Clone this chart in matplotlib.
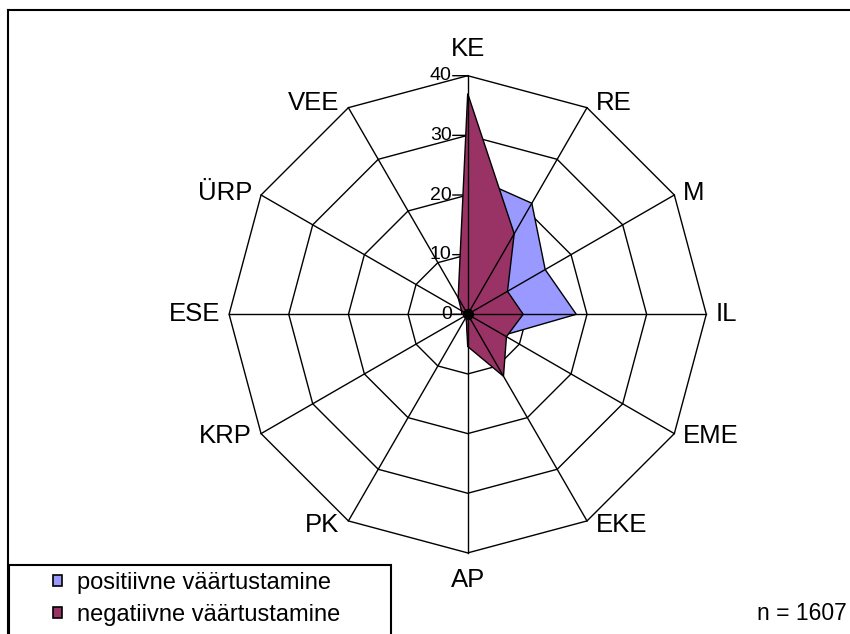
import numpy as np
import matplotlib
matplotlib.use('Agg')
import matplotlib.pyplot as plt
from matplotlib.patches import Patch, Rectangle
from matplotlib.lines import Line2D

# ---------------- data ----------------
categories = ['KE', 'RE', 'M', 'IL', 'EME', 'EKE', 'AP', 'PK', 'KRP', 'ESE', 'ÜRP', 'VEE']
positive = [23.4, 21.5, 15.0, 18.2, 7.0, 6.0, 3.5, 0.5, 0.5, 0.8, 1.0, 2.5]
negative = [37.0, 15.6, 7.7, 9.3, 7.5, 12.0, 5.4, 0.5, 0.3, 1.0, 1.2, 3.2]
series_names = ['positiivne väärtustamine', 'negatiivne väärtustamine']
r_ticks = [0, 10, 20, 30, 40]
n_label = 'n = 1607'

# ---------------- style ----------------
W, H, DPI = 850, 634, 100
plt.rcParams['font.family'] = ['Liberation Sans', 'DejaVu Sans']
colors = ['#9999FF', '#993366']
LW = 1.0

fig = plt.figure(figsize=(W / DPI, H / DPI), dpi=DPI)
fig.patch.set_facecolor('white')

cx, cy, R = 467.7, 314.3, 238.6
ax = fig.add_axes([(cx - R) / W, (H - cy - R) / H, 2 * R / W, 2 * R / H],
                  projection='polar')
ax.set_theta_offset(np.pi / 2)
ax.set_theta_direction(-1)
ax.set_ylim(0, r_ticks[-1])
ax.grid(False)
ax.set_xticks([])
ax.set_yticks([])
ax.spines['polar'].set_visible(False)
ax.patch.set_alpha(0)

N = len(categories)
theta = np.arange(N) * 2 * np.pi / N
closed = np.append(theta, theta[0])

# polygon rings (under the fills)
for v in r_ticks[1:]:
    ax.plot(closed, [v] * (N + 1), color='black', lw=LW, zorder=1, clip_on=False)

# value-axis tick marks and labels
for v in r_ticks:
    ax.annotate('', xy=(0, v), xytext=(-15, 0), textcoords='offset pixels',
                arrowprops=dict(arrowstyle='-', color='black', lw=LW,
                                shrinkA=0, shrinkB=0),
                zorder=1, annotation_clip=False)
    ax.annotate(str(v), xy=(0, v), xytext=(-16, 0), textcoords='offset pixels',
                ha='right', va='center', fontsize=14, zorder=1,
                annotation_clip=False)

# filled series
for vals, fc in zip([positive, negative], colors):
    ax.fill(closed, np.append(vals, vals[0]), facecolor=fc, edgecolor='black',
            lw=LW, zorder=2)

# spokes (over the fills)
for t in theta:
    ax.plot([t, t], [0, r_ticks[-1]], color='black', lw=LW, zorder=3, clip_on=False)
ax.plot([0], [0], 'o', color='black', ms=7, zorder=4)

# category labels
for t, lab in zip(theta, categories):
    s, c = np.sin(t), np.cos(t)
    if abs(s) < 0.01:
        ha = 'center'
        dx = 0
        if c > 0:
            va, dy = 'baseline', 20
        else:
            va, dy = 'top', -15
    else:
        ha = 'left' if s > 0 else 'right'
        dx = 9 if s > 0 else -9
        va = 'center'
        dy = 5 * c
    ax.annotate(lab, xy=(t, r_ticks[-1]), xytext=(dx, dy),
                textcoords='offset pixels', ha=ha, va=va, fontsize=18.5,
                annotation_clip=False, zorder=5)

# chart-area border
fig.add_artist(Line2D([8 / W, 8 / W], [0, 1 - 10 / H], transform=fig.transFigure,
                      color='black', lw=1.5))
fig.add_artist(Line2D([8 / W, 1], [1 - 10 / H, 1 - 10 / H], transform=fig.transFigure,
                      color='black', lw=1.5))

# legend
fig.add_artist(Rectangle((9 / W, -10 / H), (391 - 9) / W, (634 - 565 + 10) / H,
                         transform=fig.transFigure, facecolor='white',
                         edgecolor='black', lw=1.5))
handles = [Patch(facecolor=c, edgecolor='black', lw=1.2) for c in colors]
fig.legend(handles, series_names, loc='upper left',
           bbox_to_anchor=(53 / W, 1 - 572 / H), frameon=False, fontsize=17,
           handlelength=0.36, handleheight=0.36, handletextpad=0.65,
           labelspacing=0.42, borderpad=0, borderaxespad=0)

fig.text(847 / W, 1 - 614 / H, n_label, ha='right', va='center', fontsize=16.5)

fig.savefig('out.png', dpi=DPI)
